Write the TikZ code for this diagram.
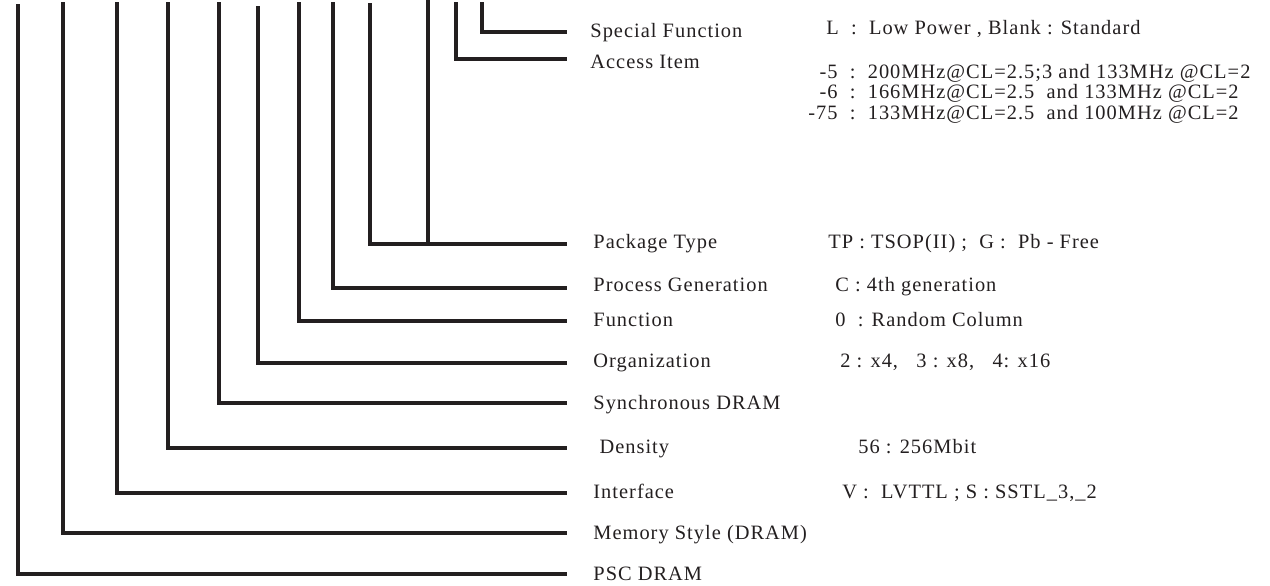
\documentclass[tikz,border=0pt]{standalone}
\usepackage{fontspec}
\setmainfont{Liberation Serif}[LetterSpace=5]
\definecolor{ink}{RGB}{35,31,32}
\begin{document}
\begin{tikzpicture}[x=0.5pt,y=-0.5pt,
  wire/.style={draw=ink,line width=1.6pt},
  lbl/.style={anchor=base west,inner sep=0pt,text=ink,font=\fontsize{10.2}{10.4}\selectfont},
  val/.style={anchor=base west,inner sep=0pt,text=ink,font=\fontsize{10.2}{10.4}\selectfont}]
\useasboundingbox (0,0) rectangle (1270,585);
% tops of the vertical lines
\coordinate (t1) at (18,4);
\coordinate (t2) at (63,2);
\coordinate (t3) at (117,2);
\coordinate (t4) at (168,2);
\coordinate (t5) at (219,2);
\coordinate (t6) at (258,6);
\coordinate (t7) at (299,2);
\coordinate (t8) at (333,2);
\coordinate (t9) at (370,3);
\coordinate (t10) at (428,0);
\coordinate (t11) at (456,2);
\coordinate (t12) at (482,2);
% right ends of the horizontal lines
\coordinate (e1) at (567,574);
\coordinate (e2) at (567,533);
\coordinate (e3) at (567,493);
\coordinate (e4) at (567,448);
\coordinate (e5) at (567,403);
\coordinate (e6) at (567,363);
\coordinate (e7) at (567,321);
\coordinate (e8) at (567,288);
\coordinate (e9) at (567,244);
\coordinate (j10) at (428,244);
\coordinate (e11) at (567,59);
\coordinate (e12) at (567,32);
\draw[wire] (t1) |- (e1);
\draw[wire] (t2) |- (e2);
\draw[wire] (t3) |- (e3);
\draw[wire] (t4) |- (e4);
\draw[wire] (t5) |- (e5);
\draw[wire] (t6) |- (e6);
\draw[wire] (t7) |- (e7);
\draw[wire] (t8) |- (e8);
\draw[wire] (t9) |- (e9);
\draw[wire] (t10) -- (j10);
\draw[wire] (t11) |- (e11);
\draw[wire] (t12) |- (e12);
% labels
\node[lbl] (l12) at (590,37) {Special Function};
\node[lbl] (l11) at (590,68) {Access Item};
\node[lbl] (l9) at (593,248) {Package Type};
\node[lbl] (l8) at (593,291) {Process Generation};
\node[lbl] (l7) at (593,326) {Function};
\node[lbl] (l6) at (593,367) {Organization};
\node[lbl] (l5) at (593,409) {Synchronous DRAM};
\node[lbl] (l4) at (593,453) {\ Density};
\node[lbl] (l3) at (593,498) {Interface};
\node[lbl] (l2) at (593,539) {Memory Style (DRAM)};
\node[lbl] (l1) at (593,580) {PSC DRAM};
% values
\node[val] (v12) at (826,34) {L\ \ :\ \ Low Power , Blank : Standard};
\node[val] (v11) at (808,78) {%
  \begin{tabular}[t]{@{}r@{\ \ :\ \ }l@{}}
  -5 & 200MHz@CL=2.5;3 and 133MHz @CL=2\\
  -6 & 166MHz@CL=2.5\ \ and 133MHz @CL=2\\
  -75 & 133MHz@CL=2.5\ \ and 100MHz @CL=2
  \end{tabular}};
\node[val] (v9) at (828,248) {TP : TSOP(II) ;\ \ G :\ \ Pb - Free};
\node[val] (v8) at (835,291) {C : 4th generation};
\node[val] (v7) at (835,326) {0\ \ : Random Column};
\node[val] (v6) at (840,367) {2 : x4,\ \ \ 3 : x8,\ \ \ 4: x16};
\node[val] (v4) at (858,453) {56 : 256Mbit};
\node[val] (v3) at (842,498) {V :\ \ LVTTL ; S : SSTL\_3,\_2};
\end{tikzpicture}
\end{document}
